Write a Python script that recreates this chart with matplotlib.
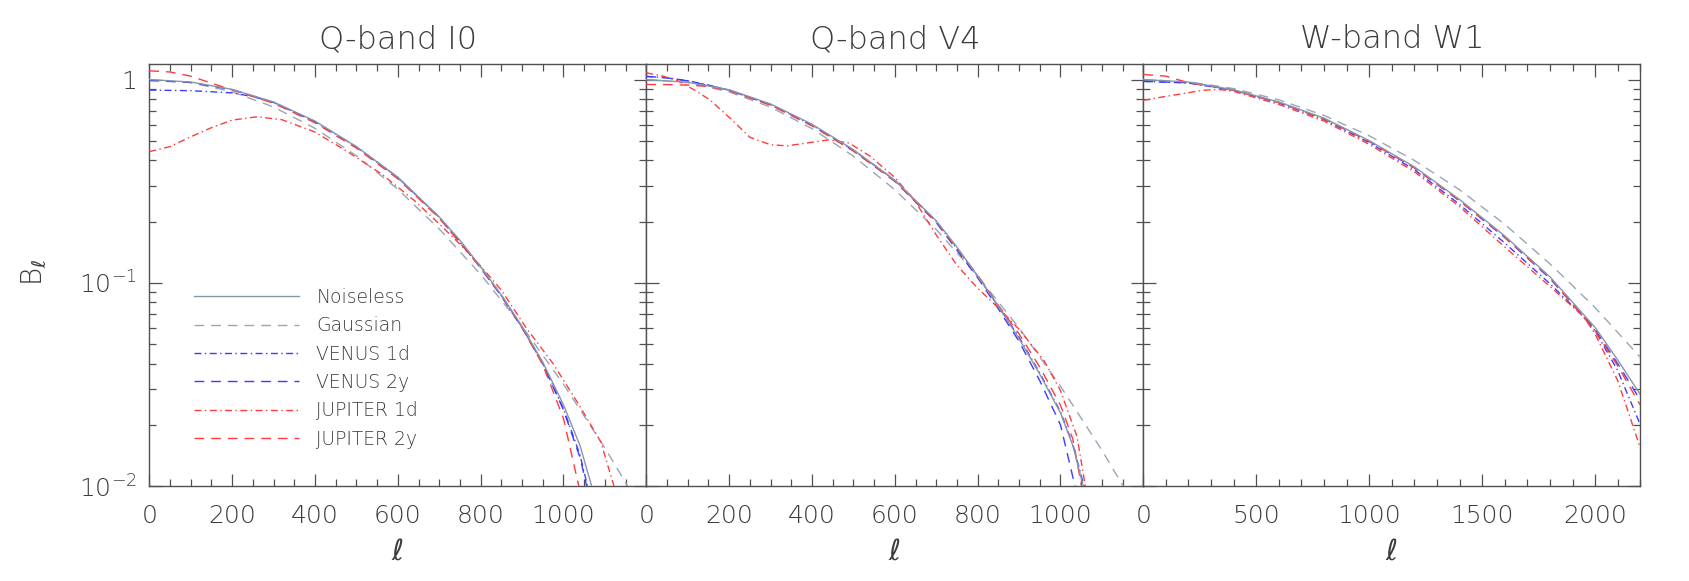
import matplotlib
matplotlib.use('Agg')
import matplotlib.pyplot as plt
from matplotlib.ticker import FixedLocator, LogLocator, NullFormatter, MultipleLocator
from matplotlib.lines import Line2D

# ---------------- data ----------------
TITLES = ['Q-band I0', 'Q-band V4', 'W-band W1']
SERIES = ['Noiseless', 'Gaussian', 'VENUS 1d', 'VENUS 2y', 'JUPITER 1d', 'JUPITER 2y']
XMAX = [1200, 1200, 2200]
XTICKS_1 = [0, 200, 400, 600, 800, 1000]
XTICKS_2 = [0, 200, 400, 600, 800, 1000]
XTICKS_3 = [0, 500, 1000, 1500, 2000]
YTICKS = [0.01, 0.1, 1.0]
YTICKLABELS = [r'$10^{-2}$', r'$10^{-1}$', '1']

# Panel 1: Q-band I0
P1_NOISELESS_L = [0, 100, 200, 300, 400, 500, 600, 700, 750, 800, 850, 900, 950, 1000, 1040, 1068, 1080]
P1_NOISELESS_B = [1.0, 0.973, 0.895, 0.776, 0.625, 0.468, 0.331, 0.211, 0.162, 0.120, 0.0871, 0.0610, 0.0407, 0.0251, 0.0158, 0.0100, 0.0080]
P1_GAUSS_L = [0, 100, 200, 300, 400, 500, 600, 700, 800, 900, 1000, 1100, 1160, 1180]
P1_GAUSS_B = [1.0, 0.966, 0.871, 0.733, 0.576, 0.422, 0.289, 0.184, 0.110, 0.0611, 0.0317, 0.0154, 0.0096, 0.0082]
P1_VEN1D_L = [0, 100, 200, 250, 300, 400, 500, 600, 700, 800, 850, 900, 950, 1000, 1040, 1058, 1070]
P1_VEN1D_B = [0.888, 0.882, 0.860, 0.825, 0.772, 0.620, 0.466, 0.330, 0.210, 0.119, 0.0865, 0.0605, 0.0400, 0.0240, 0.0142, 0.0100, 0.0082]
P1_VEN2Y_L = [0, 100, 200, 300, 400, 500, 600, 700, 750, 800, 850, 900, 950, 1000, 1040, 1056, 1068]
P1_VEN2Y_B = [0.99, 0.968, 0.892, 0.772, 0.621, 0.466, 0.329, 0.210, 0.160, 0.118, 0.086, 0.060, 0.040, 0.0237, 0.0138, 0.0100, 0.0082]
P1_JUP1D_L = [0, 50, 100, 150, 200, 260, 320, 400, 480, 560, 640, 700, 750, 800, 850, 910, 975, 1040, 1090, 1120, 1135]
P1_JUP1D_B = [0.442, 0.468, 0.523, 0.580, 0.632, 0.656, 0.635, 0.552, 0.440, 0.344, 0.254, 0.195, 0.155, 0.121, 0.092, 0.0600, 0.0400, 0.0246, 0.0165, 0.0103, 0.0082]
P1_JUP2Y_L = [0, 50, 100, 150, 200, 300, 400, 500, 600, 700, 800, 850, 900, 950, 1000, 1036, 1050]
P1_JUP2Y_B = [1.105, 1.09, 1.04, 0.96, 0.89, 0.765, 0.613, 0.460, 0.325, 0.208, 0.119, 0.087, 0.0605, 0.0395, 0.0215, 0.0102, 0.0080]

# Panel 2: Q-band V4
P2_NOISELESS_L = [0, 100, 200, 300, 400, 500, 600, 700, 750, 800, 850, 900, 950, 1000, 1030, 1055, 1065]
P2_NOISELESS_B = [1.0, 0.970, 0.891, 0.759, 0.603, 0.452, 0.320, 0.202, 0.150, 0.108, 0.0767, 0.0531, 0.0355, 0.0229, 0.0158, 0.0100, 0.0085]
P2_GAUSS_L = [0, 100, 200, 300, 400, 500, 600, 700, 800, 900, 1000, 1100, 1150, 1170]
P2_GAUSS_B = [1.0, 0.966, 0.870, 0.732, 0.574, 0.420, 0.287, 0.183, 0.108, 0.060, 0.031, 0.0150, 0.0101, 0.0087]
P2_VEN1D_L = [0, 50, 100, 150, 200, 300, 400, 500, 600, 700, 800, 850, 900, 950, 1000, 1030, 1058, 1068]
P2_VEN1D_B = [1.037, 1.02, 0.988, 0.94, 0.886, 0.752, 0.597, 0.450, 0.320, 0.201, 0.108, 0.0765, 0.0540, 0.0360, 0.0232, 0.0160, 0.0098, 0.0085]
P2_VEN2Y_L = [0, 50, 100, 150, 200, 300, 400, 500, 600, 700, 800, 850, 900, 950, 1000, 1035, 1045]
P2_VEN2Y_B = [1.037, 1.02, 0.985, 0.935, 0.888, 0.753, 0.596, 0.446, 0.316, 0.198, 0.106, 0.0745, 0.0515, 0.0330, 0.0200, 0.0100, 0.0083]
P2_JUP1D_L = [0, 40, 75, 120, 155, 210, 250, 300, 340, 380, 440, 490, 540, 600, 650, 700, 750, 800, 854, 900, 960, 1000, 1040, 1060, 1068]
P2_JUP1D_B = [1.08, 1.04, 0.99, 0.88, 0.79, 0.625, 0.52, 0.478, 0.472, 0.485, 0.505, 0.487, 0.42, 0.33, 0.25, 0.172, 0.122, 0.094, 0.0740, 0.0590, 0.0415, 0.0295, 0.0175, 0.0100, 0.0088]
P2_JUP2Y_L = [0, 50, 100, 150, 200, 300, 400, 500, 600, 700, 800, 850, 900, 950, 1000, 1030, 1050, 1060]
P2_JUP2Y_B = [0.946, 0.945, 0.94, 0.925, 0.88, 0.748, 0.592, 0.445, 0.317, 0.200, 0.109, 0.0775, 0.0560, 0.0385, 0.0250, 0.0170, 0.0102, 0.0085]

# Panel 3: W-band W1
P3_NOISELESS_L = [0, 200, 400, 600, 800, 1000, 1200, 1400, 1600, 1800, 2000, 2100, 2200]
P3_NOISELESS_B = [1.0, 0.973, 0.891, 0.776, 0.646, 0.501, 0.372, 0.257, 0.170, 0.107, 0.0603, 0.0417, 0.0282]
P3_GAUSS_L = [0, 200, 400, 600, 800, 1000, 1200, 1400, 1600, 1800, 2000, 2200]
P3_GAUSS_B = [1.0, 0.975, 0.903, 0.795, 0.666, 0.529, 0.400, 0.287, 0.194, 0.124, 0.0755, 0.043]
P3_VEN1D_L = [0, 200, 400, 600, 800, 1000, 1200, 1400, 1600, 1800, 1950, 2000, 2100, 2200]
P3_VEN1D_B = [0.98, 0.962, 0.885, 0.768, 0.636, 0.490, 0.360, 0.243, 0.157, 0.099, 0.068, 0.058, 0.037, 0.020]
P3_VEN2Y_L = [0, 200, 400, 600, 800, 1000, 1200, 1400, 1600, 1800, 2000, 2100, 2200]
P3_VEN2Y_B = [0.98, 0.965, 0.888, 0.772, 0.642, 0.497, 0.368, 0.253, 0.167, 0.105, 0.059, 0.040, 0.0265]
P3_JUP1D_L = [0, 80, 170, 260, 330, 400, 600, 800, 1000, 1200, 1400, 1600, 1800, 1950, 2000, 2100, 2200]
P3_JUP1D_B = [0.79, 0.82, 0.851, 0.885, 0.895, 0.875, 0.755, 0.625, 0.480, 0.352, 0.237, 0.150, 0.096, 0.068, 0.056, 0.033, 0.0154]
P3_JUP2Y_L = [0, 100, 200, 300, 400, 600, 800, 1000, 1200, 1400, 1600, 1800, 2000, 2100, 2200]
P3_JUP2Y_B = [1.06, 1.04, 0.965, 0.93, 0.885, 0.770, 0.640, 0.497, 0.368, 0.254, 0.168, 0.106, 0.058, 0.039, 0.025]

PANELS = [
    [(P1_NOISELESS_L, P1_NOISELESS_B), (P1_GAUSS_L, P1_GAUSS_B), (P1_VEN1D_L, P1_VEN1D_B),
     (P1_VEN2Y_L, P1_VEN2Y_B), (P1_JUP1D_L, P1_JUP1D_B), (P1_JUP2Y_L, P1_JUP2Y_B)],
    [(P2_NOISELESS_L, P2_NOISELESS_B), (P2_GAUSS_L, P2_GAUSS_B), (P2_VEN1D_L, P2_VEN1D_B),
     (P2_VEN2Y_L, P2_VEN2Y_B), (P2_JUP1D_L, P2_JUP1D_B), (P2_JUP2Y_L, P2_JUP2Y_B)],
    [(P3_NOISELESS_L, P3_NOISELESS_B), (P3_GAUSS_L, P3_GAUSS_B), (P3_VEN1D_L, P3_VEN1D_B),
     (P3_VEN2Y_L, P3_VEN2Y_B), (P3_JUP1D_L, P3_JUP1D_B), (P3_JUP2Y_L, P3_JUP2Y_B)],
]
XTICKS = [XTICKS_1, XTICKS_2, XTICKS_3]
XMINOR = [50, 50, 100]

# ---------------- styles ----------------
TXT = '#3c3c3c'
AXC = '#505050'
GRAY = '#8797aa'
GRAY2 = '#98a6b6'
BLUE = '#3c3cff'
RED = '#ff3c3c'
DASH = (0, (7, 5))
DASHDOT = (0, (5, 2.5, 1, 2.5))
STYLES = [
    dict(color=GRAY, ls='-', zorder=6),
    dict(color=GRAY2, ls=DASH, zorder=3),
    dict(color=BLUE, ls=DASHDOT, zorder=4),
    dict(color=BLUE, ls=DASH, zorder=4),
    dict(color=RED, ls=DASHDOT, zorder=5),
    dict(color=RED, ls=DASH, zorder=5),
]

plt.rcParams['font.family'] = ['DejaVu Sans']
plt.rcParams['font.weight'] = 'light'
plt.rcParams['axes.titleweight'] = 'light'
plt.rcParams['mathtext.fontset'] = 'dejavusans'

W, H = 1689, 581
fig = plt.figure(figsize=(W / 100, H / 100), dpi=100)

left0, pw = 149.3, 497.0
top_px, bot_px = 63.5, 486.0

for i in range(3):
    ax = fig.add_axes([(left0 + i * pw) / W, 1 - bot_px / H, pw / W, (bot_px - top_px) / H])
    for (lx, bx), st in zip(PANELS[i], STYLES):
        ax.plot(lx, bx, lw=1.0, **st)
    ax.set_yscale('log')
    ax.set_xlim(0, XMAX[i])
    ax.set_ylim(0.01, 1.2)

    ax.xaxis.set_major_locator(FixedLocator(XTICKS[i]))
    ax.xaxis.set_minor_locator(MultipleLocator(XMINOR[i]))
    ax.set_xticklabels([str(t) for t in XTICKS[i]])
    ax.yaxis.set_major_locator(FixedLocator(YTICKS))
    ax.yaxis.set_minor_locator(LogLocator(base=10, subs=[2, 3, 4, 5, 6, 7, 8, 9]))
    ax.yaxis.set_minor_formatter(NullFormatter())
    if i == 0:
        ax.set_yticklabels(YTICKLABELS)
    else:
        ax.set_yticklabels([])

    ax.tick_params(which='both', direction='in', top=True, right=True,
                   color=AXC, labelcolor=TXT, labelsize=18)
    ax.tick_params(which='major', length=9, width=0.9)
    ax.tick_params(which='minor', length=5, width=0.9)
    ax.tick_params(axis='x', pad=13)
    ax.tick_params(axis='y', pad=9)
    for sp in ax.spines.values():
        sp.set_color(AXC)
        sp.set_linewidth(1.0)

    ax.set_title(TITLES[i], fontsize=23, color=TXT, pad=11, fontweight='light')
    fig.text((left0 + (i + 0.5) * pw) / W, 1 - 552 / H, r'$\ell$', fontsize=21,
             color=TXT, ha='center', va='center')

    if i == 0:
        handles = [Line2D([], [], lw=1.0, color=st['color'], ls=st['ls']) for st in STYLES]
        ax.legend(handles, SERIES, loc='upper left', bbox_to_anchor=(0.089, 0.469),
                  frameon=False, fontsize=13.5, handlelength=5.6, handletextpad=0.95,
                  labelspacing=0.5, borderpad=0, borderaxespad=0, labelcolor=TXT)

fig.text(34 / W, 1 - 272 / H, r'B$_\ell$', rotation=90, fontsize=20, color=TXT,
         ha='center', va='center')

fig.savefig('out.png', dpi=100)
